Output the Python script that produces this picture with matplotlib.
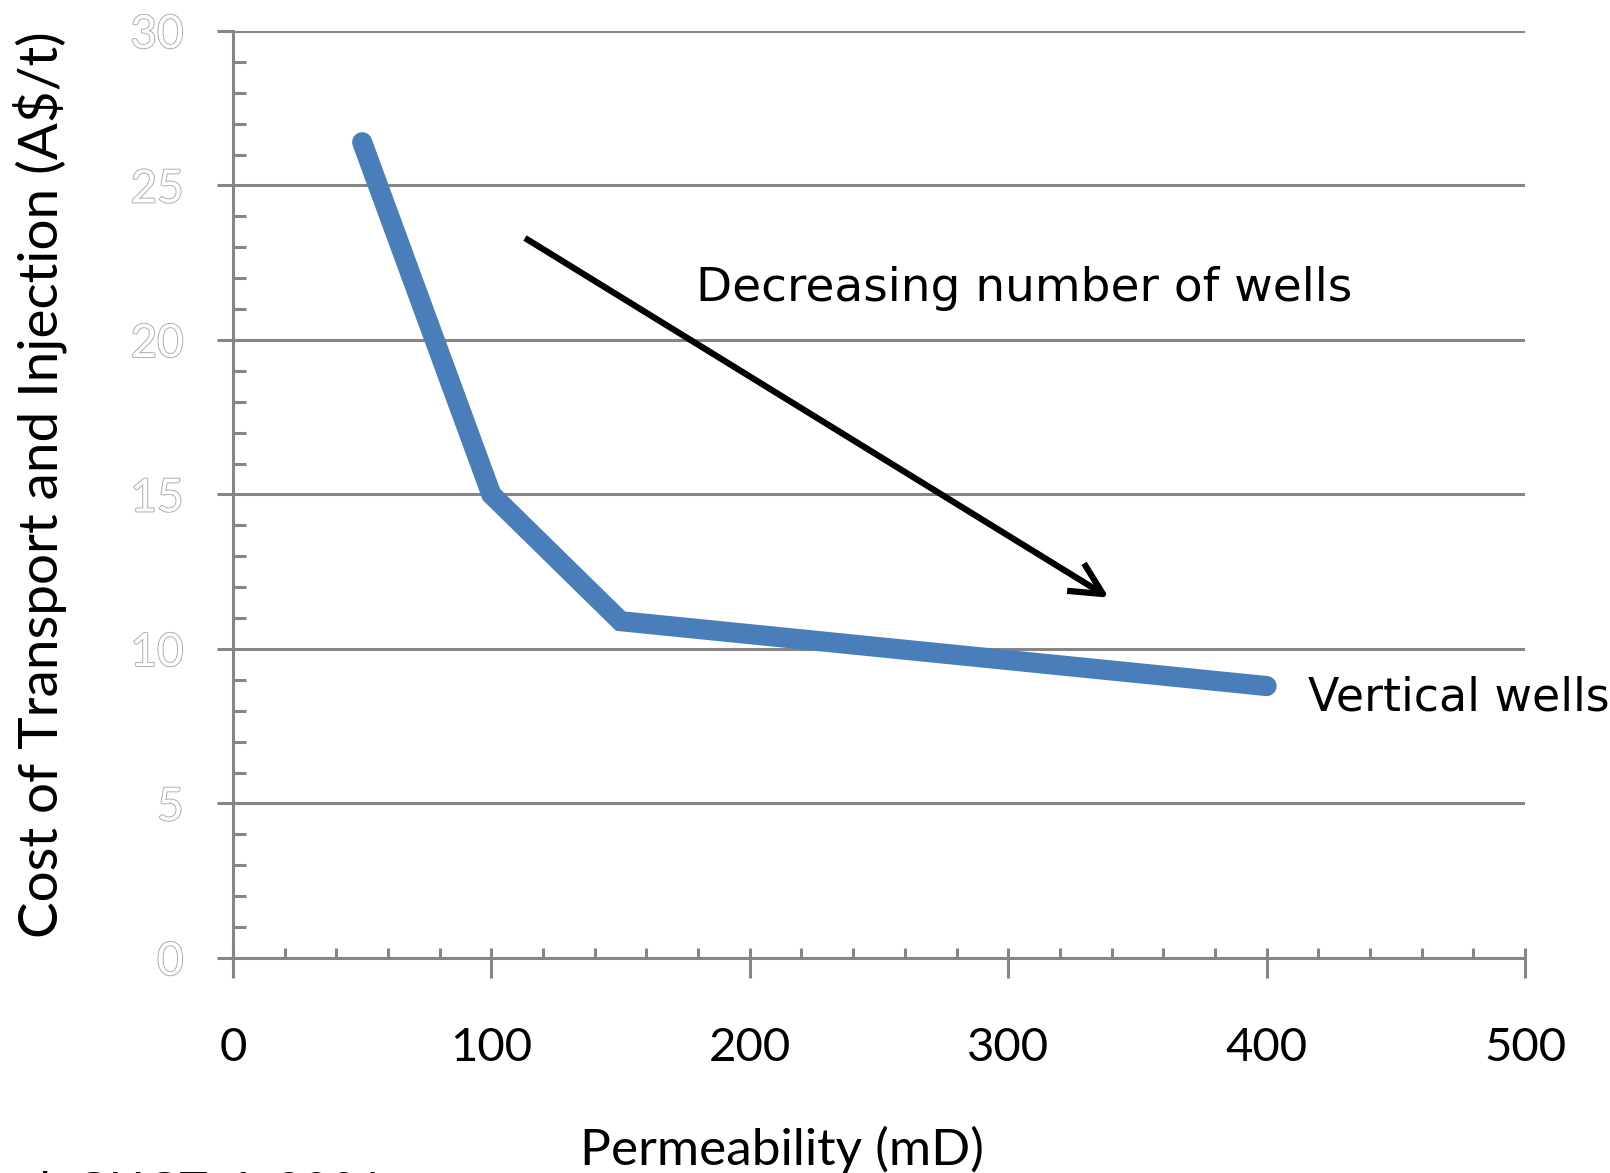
import matplotlib.pyplot as plt
from matplotlib.ticker import MultipleLocator
import matplotlib.patheffects as pe

# Cost curve for vertical wells
permeability = [50, 100, 150, 400]
cost = [26.4, 15.0, 10.9, 8.8]

x_ticks = [0, 100, 200, 300, 400, 500]
y_ticks = [0, 5, 10, 15, 20, 25, 30]

axis_grey = '#868686'
line_blue = '#4A7EBB'

fig = plt.figure(figsize=(16.1, 11.73), dpi=100)
ax = fig.add_axes([0.1447, 0.1833, 0.8025, 0.7903])

ax.plot(permeability, cost, color=line_blue, linewidth=14.5,
        solid_capstyle='round', solid_joinstyle='miter', zorder=3, clip_on=False)

ax.set_xlim(0, 500)
ax.set_ylim(0, 30)
ax.set_xticks(x_ticks)
ax.set_yticks(y_ticks)

# minor ticks: every 20 mD along x (including under the majors), every 1 A$/t along y
ax.xaxis.set_minor_locator(MultipleLocator(20))
ax.xaxis.remove_overlapping_locs = False
ax.yaxis.set_minor_locator(MultipleLocator(1))

ax.tick_params(axis='x', which='major', direction='out', length=14.4, width=2.2,
               color=axis_grey, pad=35, labelsize=34)
ax.tick_params(axis='x', which='minor', direction='in', length=7.2, width=2.2,
               color=axis_grey)
ax.tick_params(axis='y', which='major', direction='out', length=11.5, width=2.2,
               color=axis_grey, pad=24, labelsize=33)
ax.tick_params(axis='y', which='minor', direction='in', length=9.4, width=2.2,
               color=axis_grey)

for lab in ax.get_xticklabels():
    lab.set_fontfamily('Lato')
    lab.set_color('black')

# hollow grey y tick labels
for lab in ax.get_yticklabels():
    lab.set_fontfamily('Lato')
    lab.set_color('white')
    lab.set_path_effects([pe.withStroke(linewidth=1.3, foreground='#a8a8a8')])

ax.yaxis.grid(True, color=axis_grey, linewidth=2.2, zorder=1)
ax.set_axisbelow(True)

for side in ['top', 'right']:
    ax.spines[side].set_visible(False)
for side in ['left', 'bottom']:
    ax.spines[side].set_color(axis_grey)
    ax.spines[side].set_linewidth(2.2)

# arrow and annotations
ax.annotate('', xy=(339, 11.66), xytext=(113, 23.3),
            arrowprops=dict(arrowstyle='->,head_length=0.4,head_width=0.2',
                            color='black', lw=4.5, mutation_scale=58,
                            shrinkA=0, shrinkB=0, joinstyle='round', capstyle='butt'))
ax.text(179, 21.65, 'Decreasing number of wells', fontsize=33.8,
        fontfamily='DejaVu Sans', ha='left', va='center')
ax.text(416, 8.4, 'Vertical wells', fontsize=33,
        fontfamily='DejaVu Sans', ha='left', va='center')

# axis titles
fig.text(0.0245, 0.587, 'Cost of Transport and Injection (A$/t)', rotation=90,
         fontsize=39.5, fontfamily='Lato', ha='center', va='center')
fig.text(0.486, 0.007, 'Permeability (mD)', fontsize=37, fontfamily='Lato',
         ha='center', va='baseline')
# source note, mostly below the bottom edge
fig.text(0.010, -0.027, 'al. GHGT-6, 2001', fontsize=34, fontfamily='Lato',
         ha='left', va='baseline')

fig.savefig('out.png', dpi=100)
